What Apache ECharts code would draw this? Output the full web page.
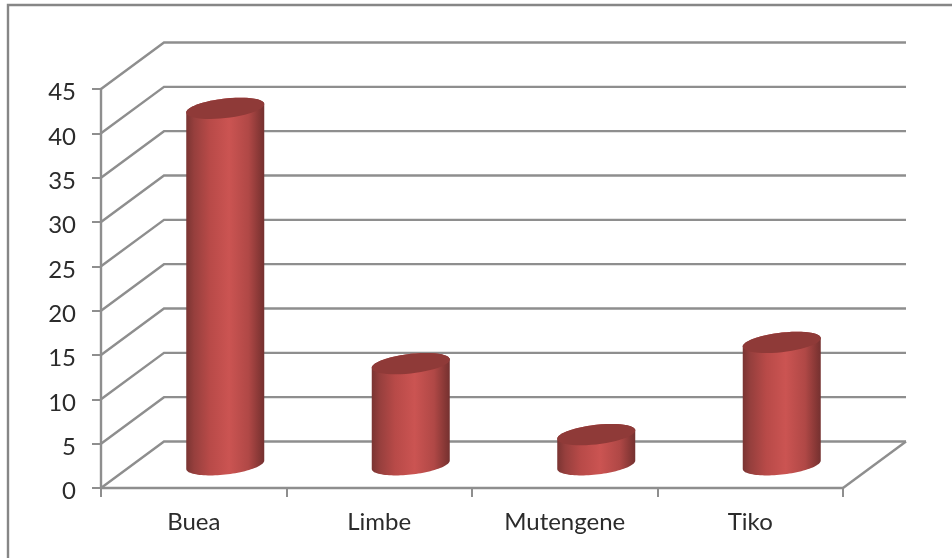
<!DOCTYPE html>
<html>
<head>
<meta charset="utf-8">
<style>html,body{margin:0;padding:0;background:#fff}#chart{width:952px;height:558px}</style>
<script src="https://cdn.jsdelivr.net/npm/echarts@6/dist/echarts.min.js"></script>
</head>
<body>
<div id="chart"></div>
<script>
const categories = ['Buea', 'Limbe', 'Mutengene', 'Tiko'];
const shares = [40.2, 11.4, 3.4, 13.8];
const yTicks = [0, 5, 10, 15, 20, 25, 30, 35, 40, 45];

// Pseudo-3D projection: pixel shift of the back wall and of the mid-depth plane
const depthX = 63, depthY = -46.5;
const GRID_COLOR = '#8e8e8e';

function ellipsePoints(cx, cy, from, to) {
  // Sheared ellipse, right side raised, as seen on the cylinder ends
  const pts = [];
  for (let i = 0; i <= 48; i++) {
    const t = from + (to - from) * i / 48;
    pts.push([cx + 39 * Math.cos(t), cy + 9.8 * Math.sin(t) - 4.2 * Math.cos(t)]);
  }
  return pts;
}

function renderWall(params, api) {
  const v = api.value(1);
  const cs = params.coordSys;
  const y = api.coord([0, v])[1];
  const x0 = cs.x, x1 = cs.x + cs.width;
  const style = { stroke: GRID_COLOR, lineWidth: 2.4, fill: null };
  const children = [{
    type: 'polyline',
    shape: { points: [[x0, y], [x0 + depthX, y + depthY], [x1 + depthX, y + depthY]] },
    style
  }];
  if (v === 0) {
    children.push({
      type: 'polyline',
      shape: { points: [[x1 + depthX, y + depthY], [x1, y]] },
      style
    });
  }
  return { type: 'group', children };
}

function renderCylinder(params, api) {
  const base = api.coord([api.value(0), 0]);
  const top = api.coord([api.value(0), api.value(1)]);
  const cx = base[0] + depthX / 2;
  const yBase = base[1] + depthY / 2;
  const yTop = top[1] + depthY / 2;
  const side = new echarts.graphic.LinearGradient(0, 0, 1, 0, [
    { offset: 0, color: '#7a3432' },
    { offset: 0.1, color: '#963f3d' },
    { offset: 0.3, color: '#b84a48' },
    { offset: 0.55, color: '#cb5452' },
    { offset: 0.8, color: '#b04846' },
    { offset: 0.95, color: '#833634' },
    { offset: 1, color: '#743130' }
  ]);
  const body = ellipsePoints(cx, yBase, 0, Math.PI)
    .concat(ellipsePoints(cx, yTop, Math.PI, 2 * Math.PI));
  return {
    type: 'group',
    children: [
      { type: 'polygon', shape: { points: body }, style: { fill: side } },
      { type: 'polygon', shape: { points: ellipsePoints(cx, yTop, 0, 2 * Math.PI) }, style: { fill: '#8f3a38' } }
    ]
  };
}

const chart = echarts.init(document.getElementById('chart'), null, { renderer: 'canvas' });
const axisText = { color: '#2b2b2b', fontFamily: 'Lato', fontSize: 24 };
chart.setOption({
  animation: false,
  backgroundColor: '#ffffff',
  graphic: [{
    type: 'rect',
    shape: { x: 8, y: 5, width: 1100, height: 800 },
    style: { fill: null, stroke: '#868686', lineWidth: 2.4 },
    silent: true
  }],
  grid: { left: 101, top: 89, width: 742, height: 399 },
  xAxis: {
    type: 'category',
    data: categories,
    axisLine: { lineStyle: { color: GRID_COLOR, width: 2.4 } },
    axisTick: { show: true, length: 9, lineStyle: { color: GRID_COLOR, width: 2 } },
    axisLabel: Object.assign({ margin: 22 }, axisText),
    splitLine: { show: false }
  },
  yAxis: {
    type: 'value',
    min: 0,
    max: 45,
    interval: 5,
    axisLine: { show: true, lineStyle: { color: GRID_COLOR, width: 2.4 } },
    axisTick: { show: true, length: 9, lineStyle: { color: GRID_COLOR, width: 2 } },
    axisLabel: Object.assign({ margin: 25, verticalAlign: 'top', lineHeight: 7 }, axisText),
    splitLine: { show: false }
  },
  series: [
    {
      type: 'custom',
      renderItem: renderWall,
      clip: false,
      silent: true,
      z: 1,
      encode: { x: 0, y: 1 },
      data: yTicks.map(v => [0, v])
    },
    {
      type: 'custom',
      renderItem: renderCylinder,
      clip: false,
      z: 3,
      encode: { x: 0, y: 1 },
      data: shares.map((v, i) => [i, v])
    }
  ]
});
</script>
</body>
</html>
